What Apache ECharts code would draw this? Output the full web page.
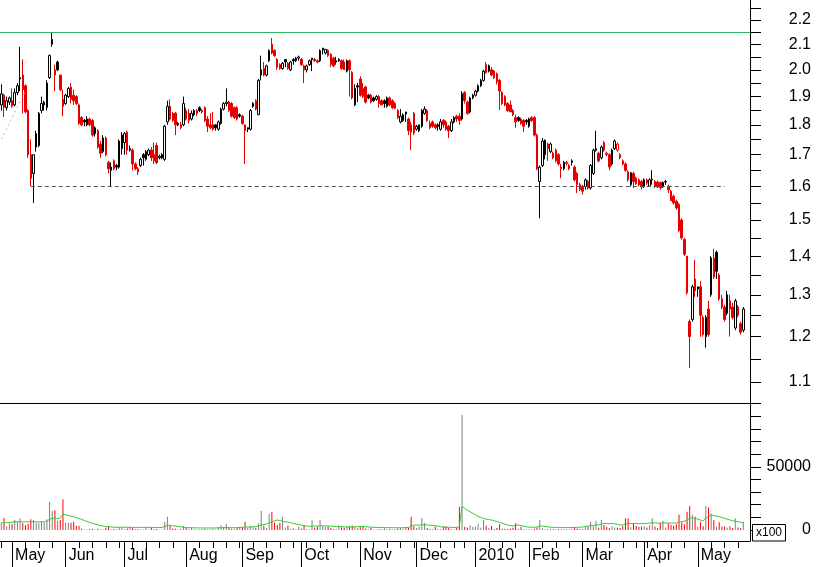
<!DOCTYPE html>
<html><head><meta charset="utf-8">
<script src="https://cdn.jsdelivr.net/npm/echarts@6.0.0/dist/echarts.min.js"></script>
<style>html,body{margin:0;padding:0;background:#fff}#c{width:817px;height:567px}</style>
</head><body><div id="c"></div>
<script>
// ---- calendar (trading days) ----
const monthKeys = ['2009-04','2009-05','2009-06','2009-07','2009-08','2009-09','2009-10','2009-11','2009-12','2010-01','2010-02','2010-03','2010-04','2010-05'];
const monthLabels = ['', 'May','Jun','Jul','Aug','Sep','Oct','Nov','Dec','2010','Feb','Mar','Apr','May'];
const monthDays = [
 [27,28,29,30],
 [4,5,6,7,8,11,12,13,14,15,18,19,20,21,22,25,26,27,28,29],
 [1,2,3,4,5,8,9,10,11,12,15,16,17,18,19,22,23,24,25,26,29,30],
 [1,2,3,6,7,8,9,10,13,14,15,16,17,20,21,22,23,24,27,28,29,30,31],
 [3,4,5,6,7,10,11,12,13,14,17,18,19,20,21,24,25,26,27,28,31],
 [1,2,3,4,7,8,9,10,11,14,15,16,17,18,21,22,23,24,25,28,29,30],
 [1,2,5,6,7,8,9,12,13,14,15,16,19,20,21,22,23,26,27,28,29,30],
 [2,3,4,5,6,9,10,11,12,13,16,17,18,19,20,23,24,25,26,27,30],
 [1,2,3,4,7,8,9,10,11,14,15,16,17,18,21,22,23,24,28,29,30,31],
 [4,5,6,7,8,11,12,13,14,15,18,19,20,21,22,25,26,27,28,29],
 [1,2,3,4,5,8,9,10,11,12,15,16,17,18,19,22,23,24,25,26],
 [1,2,3,4,5,8,9,10,11,12,15,16,17,18,19,22,23,24,25,26,29,30,31],
 [1,6,7,8,9,12,13,14,15,16,19,20,21,22,23,26,27,28,29,30],
 [3,4,5,6,7,10,11,12,13,14,17,18,19,20,21,24,25,26,27,28]
];

// ---- price series ----
const opens = [
 1.87,1.905,1.86,1.88,1.885,1.87,1.915,1.965,1.98,1.94,
 1.85,1.70,1.64,1.77,1.73,1.85,1.87,1.86,1.97,2.10,
 2.00,2.03,1.98,1.89,1.875,1.90,1.935,1.905,1.90,1.87,
 1.825,1.815,1.80,1.82,1.815,1.79,1.78,1.735,1.71,1.755,
 1.675,1.65,1.68,1.665,1.66,1.72,1.74,1.775,1.715,1.715,
 1.67,1.655,1.665,1.70,1.685,1.70,1.715,1.70,1.73,1.69,
 1.69,1.685,1.81,1.865,1.84,1.84,1.80,1.80,1.80,1.85,
 1.84,1.82,1.835,1.85,1.86,1.85,1.86,1.82,1.80,1.80,
 1.80,1.785,1.805,1.855,1.875,1.88,1.875,1.86,1.86,1.835,
 1.83,1.80,1.79,1.785,1.875,1.885,1.835,1.98,2.005,1.98,
 2.035,2.10,2.075,2.04,2.02,2.005,2.04,2.025,2.00,2.04,
 2.035,2.045,2.04,2.015,2.00,2.02,2.045,2.04,2.035,2.035,
 2.085,2.065,2.075,2.06,2.045,2.035,2.04,2.035,2.03,1.995,
 2.035,1.99,1.87,1.94,1.965,1.93,1.935,1.905,1.905,1.895,
 1.89,1.90,1.885,1.885,1.865,1.895,1.885,1.875,1.85,1.81,
 1.815,1.845,1.82,1.80,1.84,1.785,1.78,1.795,1.84,1.85,
 1.79,1.81,1.80,1.80,1.785,1.815,1.81,1.795,1.78,1.81,
 1.83,1.83,1.82,1.915,1.88,1.845,1.895,1.905,1.92,1.94,
 1.96,2.02,2.015,2.00,1.995,1.985,1.96,1.915,1.90,1.875,
 1.87,1.85,1.825,1.825,1.82,1.815,1.815,1.795,1.825,1.825,
 1.765,1.615,1.665,1.70,1.735,1.71,1.705,1.715,1.70,1.66,
 1.655,1.675,1.665,1.675,1.66,1.64,1.605,1.60,1.60,1.615,
 1.595,1.64,1.715,1.705,1.69,1.74,1.70,1.70,1.67,1.72,
 1.715,1.70,1.68,1.67,1.645,1.605,1.64,1.625,1.62,1.615,
 1.60,1.62,1.60,1.62,1.615,1.613,1.612,1.598,1.615,1.60,
 1.585,1.57,1.555,1.545,1.50,1.445,1.40,1.235,1.24,1.34,
 1.32,1.32,1.245,1.20,1.265,1.30,1.395,1.41,1.35,1.29,
 1.27,1.255,1.285,1.27,1.22,1.27,1.23,1.215
];
const highs = [
 1.945,1.91,1.90,1.90,1.93,1.93,1.95,2.09,2.04,1.945,
 1.855,1.75,1.70,1.78,1.845,1.90,1.885,1.96,2.06,2.15,
 2.02,2.035,1.98,1.925,1.91,1.935,1.95,1.925,1.905,1.875,
 1.83,1.82,1.83,1.825,1.82,1.795,1.785,1.745,1.765,1.76,
 1.68,1.675,1.685,1.67,1.75,1.775,1.775,1.78,1.73,1.72,
 1.675,1.66,1.69,1.705,1.715,1.72,1.725,1.74,1.74,1.70,
 1.705,1.80,1.885,1.89,1.845,1.845,1.81,1.81,1.90,1.86,
 1.855,1.85,1.855,1.855,1.865,1.855,1.865,1.83,1.84,1.845,
 1.80,1.815,1.86,1.88,1.93,1.885,1.88,1.865,1.865,1.84,
 1.835,1.80,1.79,1.855,1.88,1.89,1.965,2.055,2.03,2.02,
 2.08,2.125,2.08,2.045,2.025,2.03,2.04,2.03,2.035,2.045,
 2.05,2.055,2.045,2.02,2.02,2.04,2.045,2.045,2.04,2.08,
 2.085,2.08,2.08,2.065,2.05,2.05,2.045,2.04,2.04,2.04,
 2.04,1.995,1.945,1.95,1.975,1.95,1.94,1.91,1.91,1.90,
 1.905,1.905,1.89,1.89,1.90,1.90,1.89,1.88,1.855,1.855,
 1.84,1.845,1.825,1.81,1.845,1.80,1.80,1.855,1.865,1.855,
 1.815,1.815,1.805,1.805,1.82,1.82,1.815,1.80,1.82,1.83,
 1.835,1.84,1.92,1.92,1.885,1.90,1.91,1.925,1.945,1.965,
 2.00,2.03,2.02,2.01,2.00,1.99,1.965,1.92,1.905,1.88,
 1.885,1.855,1.835,1.83,1.825,1.82,1.82,1.825,1.83,1.83,
 1.77,1.665,1.755,1.75,1.74,1.74,1.71,1.72,1.705,1.67,
 1.68,1.68,1.67,1.685,1.665,1.645,1.61,1.605,1.625,1.62,
 1.67,1.72,1.78,1.71,1.73,1.745,1.71,1.705,1.72,1.75,
 1.74,1.705,1.685,1.675,1.65,1.645,1.645,1.63,1.625,1.62,
 1.625,1.625,1.625,1.65,1.62,1.618,1.615,1.615,1.62,1.605,
 1.59,1.575,1.56,1.55,1.505,1.45,1.40,1.24,1.325,1.39,
 1.32,1.335,1.25,1.25,1.285,1.40,1.42,1.415,1.355,1.30,
 1.275,1.31,1.30,1.28,1.29,1.275,1.235,1.27
];
const lows = [
 1.85,1.827,1.85,1.87,1.86,1.865,1.905,1.92,1.84,1.84,
 1.69,1.60,1.55,1.71,1.725,1.84,1.85,1.85,1.965,2.09,
 1.92,1.995,1.92,1.83,1.87,1.895,1.875,1.87,1.87,1.80,
 1.795,1.795,1.795,1.795,1.76,1.76,1.72,1.69,1.705,1.695,
 1.64,1.60,1.65,1.65,1.655,1.70,1.70,1.70,1.71,1.65,
 1.65,1.635,1.66,1.665,1.68,1.695,1.68,1.67,1.67,1.685,
 1.685,1.68,1.80,1.815,1.81,1.765,1.795,1.785,1.795,1.815,
 1.805,1.815,1.83,1.83,1.845,1.84,1.81,1.775,1.785,1.78,
 1.78,1.78,1.80,1.85,1.865,1.845,1.825,1.82,1.815,1.825,
 1.80,1.67,1.775,1.78,1.86,1.85,1.835,1.96,1.975,1.975,
 2.03,2.06,2.05,2.00,2.00,2.00,2.01,2.00,1.995,2.02,
 2.03,2.035,2.015,1.95,1.99,2.015,1.995,2.03,2.025,2.03,
 2.06,2.06,2.05,2.01,2.01,2.02,2.03,2.00,2.00,1.99,
 1.90,1.89,1.865,1.88,1.90,1.895,1.875,1.89,1.875,1.88,
 1.885,1.86,1.87,1.86,1.86,1.865,1.855,1.855,1.82,1.805,
 1.81,1.81,1.765,1.715,1.765,1.78,1.775,1.79,1.835,1.81,
 1.785,1.79,1.785,1.78,1.78,1.79,1.78,1.755,1.775,1.805,
 1.81,1.80,1.815,1.875,1.835,1.84,1.89,1.90,1.915,1.935,
 1.955,1.985,1.99,1.975,1.965,1.945,1.852,1.87,1.865,1.845,
 1.845,1.83,1.79,1.81,1.80,1.775,1.80,1.79,1.81,1.76,
 1.65,1.505,1.66,1.685,1.68,1.705,1.685,1.675,1.665,1.625,
 1.65,1.665,1.65,1.665,1.615,1.58,1.585,1.575,1.59,1.59,
 1.59,1.635,1.71,1.675,1.685,1.71,1.695,1.65,1.665,1.715,
 1.71,1.685,1.665,1.645,1.615,1.60,1.595,1.605,1.60,1.59,
 1.595,1.605,1.598,1.605,1.595,1.595,1.59,1.595,1.605,1.58,
 1.555,1.545,1.53,1.465,1.445,1.40,1.30,1.13,1.235,1.295,
 1.295,1.20,1.20,1.175,1.20,1.295,1.34,1.34,1.285,1.265,
 1.235,1.25,1.20,1.24,1.215,1.245,1.205,1.21
];
const closes = [
 1.91,1.862,1.885,1.895,1.865,1.915,1.94,1.97,1.925,1.845,
 1.70,1.625,1.70,1.725,1.84,1.875,1.88,1.95,2.055,2.12,
 1.98,2.00,1.925,1.865,1.905,1.93,1.89,1.885,1.875,1.805,
 1.80,1.81,1.82,1.80,1.765,1.77,1.725,1.705,1.755,1.70,
 1.655,1.66,1.655,1.66,1.745,1.765,1.77,1.715,1.72,1.67,
 1.655,1.645,1.685,1.69,1.71,1.715,1.69,1.68,1.675,1.695,
 1.70,1.795,1.865,1.82,1.815,1.80,1.805,1.79,1.875,1.82,
 1.815,1.84,1.85,1.84,1.85,1.845,1.815,1.795,1.79,1.785,
 1.79,1.81,1.855,1.875,1.88,1.85,1.83,1.825,1.82,1.83,
 1.805,1.78,1.785,1.85,1.865,1.855,1.96,2.00,1.98,2.015,
 2.075,2.065,2.055,2.01,2.005,2.025,2.03,2.005,2.03,2.035,
 2.045,2.05,2.02,2.00,2.015,2.035,2.04,2.035,2.03,2.075,
 2.078,2.08,2.055,2.02,2.015,2.03,2.035,2.005,2.00,2.035,
 2.00,1.895,1.93,1.935,1.905,1.90,1.88,1.895,1.88,1.885,
 1.90,1.875,1.87,1.875,1.895,1.87,1.86,1.858,1.825,1.83,
 1.835,1.838,1.78,1.775,1.772,1.795,1.80,1.85,1.855,1.815,
 1.805,1.795,1.79,1.795,1.81,1.80,1.785,1.78,1.81,1.825,
 1.82,1.815,1.91,1.885,1.84,1.895,1.905,1.92,1.94,1.96,
 1.995,1.99,1.995,1.98,1.97,1.955,1.92,1.875,1.87,1.85,
 1.845,1.835,1.81,1.815,1.805,1.795,1.81,1.82,1.815,1.765,
 1.655,1.66,1.745,1.748,1.72,1.735,1.69,1.68,1.67,1.655,
 1.675,1.672,1.655,1.68,1.62,1.605,1.59,1.585,1.62,1.595,
 1.665,1.715,1.72,1.68,1.725,1.715,1.705,1.66,1.715,1.745,
 1.735,1.69,1.67,1.65,1.62,1.642,1.615,1.608,1.605,1.598,
 1.62,1.61,1.62,1.622,1.60,1.598,1.596,1.612,1.613,1.59,
 1.557,1.55,1.535,1.47,1.45,1.405,1.305,1.20,1.32,1.31,
 1.315,1.25,1.205,1.245,1.205,1.395,1.345,1.36,1.29,1.27,
 1.24,1.30,1.265,1.245,1.285,1.25,1.21,1.265
];

// ---- volume (x100) ----
const volumes = [
 5500,9700,3000,5200,4500,8000,7000,9000,5500,4000,5000,8500,8000,6000,5500,7000,6000,8500,22300,15000,15700,7300,8000,24400,
 5700,5700,5700,6500,3400,3100,1200,400,300,800,1000,400,900,300,500,1800,3000,600,800,500,2000,1800,400,
 1200,2600,1500,600,700,300,400,2000,400,1700,500,800,200,300,6500,10500,3400,1200,900,400,1000,3200,
 1800,500,2200,800,400,300,600,900,400,300,800,300,2400,3800,2500,4700,1800,900,600,1500,2600,
 2000,6500,1500,3000,2200,1800,5300,15200,3500,1500,12800,14400,6000,4000,5500,10500,2000,3500,1000,1500,600,2500,
 1200,3800,800,600,7900,1800,2600,7900,3000,2500,2800,1500,800,1000,3500,2200,1800,2500,3000,3500,2500,1500,
 2800,2500,1200,600,1800,400,300,800,600,1500,500,800,400,600,1200,1500,900,2500,2000,10500,3000,
 1500,2800,9500,5500,1500,800,600,2500,1000,600,2800,3000,1500,700,400,2000,18400,91000,2500,2000,3800,2400,
 2800,5000,1800,7900,3500,1500,3200,800,1500,4500,900,1000,800,1200,1800,5300,900,2500,600,400,500,300,
 1000,2000,7900,1500,800,500,1000,600,400,800,500,600,400,300,900,2200,1200,700,500,2500,2600,6500,
 3400,7400,1800,7900,4000,2500,1500,3000,2000,1800,1500,3000,9200,9200,2200,5200,3400,2500,2800,3000,2000,3800,
 9200,2800,1500,5700,7400,2000,5200,4000,3500,4500,12000,6000,4500,14400,18900,12000,10500,2500,6500,3000,18900,17800,
 13000,8000,2800,6100,2500,3000,2000,3000,1500,9200,2000,1500,6500
];
const volumeMA = [
 5700,5800,5800,6000,6200,6500,6500,6500,6500,6500,6500,6500,6500,6500,6500,6500,6500,7000,8500,9200,9500,9000,9500,12600,
 12000,11500,11000,10500,9800,9000,8400,7500,6800,6000,5300,4700,4100,3600,3100,2800,2600,2400,2200,2100,2100,2200,2100,
 2100,2100,2000,2000,2100,2000,2000,2100,2000,2100,2000,2000,2000,2000,2600,3900,3600,3300,3100,2800,2500,2200,
 2000,1800,1800,1700,1700,1600,1600,1600,1600,1600,1600,1600,1700,1800,1800,1900,1900,1800,1800,1900,2000,
 2100,2400,2300,2400,2500,2800,3200,3900,4300,4700,5700,6500,7300,7900,7500,6900,6500,6100,5700,5200,4700,4300,
 3900,3400,3100,2900,3000,3100,3100,3400,3300,3200,3100,3000,2900,2700,2700,2600,2500,2500,2400,2400,2500,2600,
 2700,2800,2600,2400,2200,2100,2100,2000,2000,1900,1900,1800,1800,1800,1800,1800,1800,1900,2000,3200,3900,
 3900,3800,4200,4200,4000,3800,3600,3400,3000,2600,2300,2200,2100,2100,2000,2000,2900,18900,17000,15600,14400,13200,
 12000,10800,9800,9200,8600,8200,7900,7300,6700,6000,5200,4600,4000,3500,3100,3500,3900,3500,3000,2600,2300,2100,
 2100,2400,3100,3100,2800,2500,2200,2100,2100,2000,2000,2000,1900,1900,2000,2100,2100,2100,2400,2800,3100,3500,
 3700,3900,4100,4600,5200,5200,5000,5200,4900,4500,3900,3900,4600,5200,5200,5200,5200,5000,5000,5200,5200,5300,
 5700,5600,5400,5500,5700,5500,5500,5500,5400,5500,6500,6500,7000,7900,9200,9600,9200,8600,7900,7300,9500,10500,
 11800,11500,11000,10500,9800,9200,8600,7900,7300,7000,6500,6100,5700
];

// ---- axis ticks / reference lines ----
const priceTicks = [1.1,1.15,1.2,1.25,1.3,1.35,1.4,1.45,1.5,1.55,1.6,1.65,1.7,1.75,1.8,1.85,1.9,1.95,2.0,2.05,2.1,2.15,2.2,2.25];
const priceLabels = [1.1,1.2,1.3,1.4,1.5,1.6,1.7,1.8,1.9,2.0,2.1,2.2];
const priceRange = [1.0568, 2.2859];
const volumeTicks = [0,10000,20000,30000,40000,50000,60000,70000,80000,90000,100000];
const volumeLabels = [0, 50000];
const volumeRange = [-8700, 100400];
const resistanceLevel = 2.15;
const supportLevel = 1.6;
const supportSpan = [11, 270];
const trendLine = [[0, 1.751], [9, 1.92]];

// ---- build ----
const cats = [], monthStart = [], weekStart = [], labelAt = [];
monthKeys.forEach((k, m) => {
  monthDays[m].forEach((d, j) => {
    const s = k + '-' + String(d).padStart(2, '0');
    const idx = cats.length;
    cats.push(s);
    monthStart.push(m > 0 && j === 0);
    labelAt.push(m > 0 && j === 0 ? monthLabels[m] : '');
    const wd = new Date(s + 'T00:00:00Z').getUTCDay();
    const pwd = idx > 0 ? new Date(cats[idx - 1] + 'T00:00:00Z').getUTCDay() : 9;
    weekStart.push(idx === 0 || wd <= pwd);
  });
});

const L = Math.log;
const RED = '#e60000', BLK = '#000000';
const candleData = [], volData = [];
opens.forEach((o, i) => {
  const c = closes[i];
  const up = i === 0 || c >= closes[i - 1];
  const line = up ? BLK : RED;
  const fill = c > o ? '#ffffff' : line;
  candleData.push({
    value: [L(o), L(c), L(lows[i]), L(highs[i])],
    itemStyle: { color: fill, color0: fill, borderColor: line, borderColor0: line, borderColorDoji: line }
  });
  volData.push({ value: volumes[i], itemStyle: { color: up ? '#808080' : '#ff0000' } });
});

const FONT = 'Liberation Sans, Arial, sans-serif';
const chart = echarts.init(document.getElementById('c'), null, { renderer: 'canvas' });
chart.setOption({
  animation: false,
  backgroundColor: '#ffffff',
  grid: [
    { left: 0, top: 0, width: 750, height: 403 },
    { left: 0, top: 403, width: 750, height: 138 }
  ],
  xAxis: [
    { type: 'category', gridIndex: 0, data: cats, boundaryGap: true,
      axisLine: { show: true, onZero: false, lineStyle: { color: '#000', width: 1 } },
      axisTick: { show: false }, axisLabel: { show: false }, splitLine: { show: false } },
    { type: 'category', gridIndex: 1, data: cats, boundaryGap: true, position: 'bottom',
      axisLine: { show: true, onZero: false, lineStyle: { color: '#000', width: 1 } },
      axisTick: { show: true, alignWithLabel: true, interval: (i) => weekStart[i], length: 7, lineStyle: { color: '#000', width: 1 } },
      axisLabel: { show: false }, splitLine: { show: false } },
    { type: 'category', gridIndex: 1, data: cats, boundaryGap: true, position: 'bottom',
      axisLine: { show: false, onZero: false },
      axisTick: { show: true, alignWithLabel: true, interval: (i) => monthStart[i], length: 26, lineStyle: { color: '#000', width: 1 } },
      axisLabel: { show: true, interval: (i) => monthStart[i], formatter: (v, i) => labelAt[i],
        align: 'left', padding: [0, 0, 0, 3], margin: 7, color: '#000', fontSize: 16, fontFamily: FONT },
      splitLine: { show: false } }
  ],
  yAxis: [
    { type: 'value', gridIndex: 0, position: 'right', min: L(priceRange[0]), max: L(priceRange[1]),
      axisLine: { show: true, onZero: false, lineStyle: { color: '#000', width: 1 } },
      axisTick: { show: true, customValues: priceTicks.map(L), length: 11, lineStyle: { color: '#000', width: 1 } },
      axisLabel: { show: true, customValues: priceLabels.map(L), formatter: (v) => Math.exp(v).toFixed(1),
        align: 'right', margin: 61, color: '#000', fontSize: 16, fontFamily: FONT },
      splitLine: { show: false } },
    { type: 'value', gridIndex: 1, position: 'right', min: volumeRange[0], max: volumeRange[1],
      axisLine: { show: true, onZero: false, lineStyle: { color: '#000', width: 1 } },
      axisTick: { show: true, customValues: volumeTicks, length: 11, lineStyle: { color: '#000', width: 1 } },
      axisLabel: { show: true, customValues: volumeLabels, formatter: (v) => String(Math.round(v)),
        align: 'right', margin: 61, color: '#000', fontSize: 16, fontFamily: FONT },
      splitLine: { show: false } }
  ],
  series: [
    { type: 'candlestick', xAxisIndex: 0, yAxisIndex: 0, data: candleData, barWidth: 2,
      itemStyle: { borderWidth: 1 },
      markLine: {
        silent: true, symbol: ['none', 'none'], animation: false, label: { show: false },
        emphasis: { disabled: true },
        lineStyle: { color: '#2fb35f', width: 1, type: 'solid', opacity: 1 },
        data: [
          [ { coord: [cats[0], L(resistanceLevel)], x: 0, lineStyle: { color: '#2fb35f', width: 1, type: 'solid' } },
            { coord: [cats[cats.length - 1], L(resistanceLevel)], x: 750 } ],
          [ { coord: [cats[supportSpan[0]], L(supportLevel)], lineStyle: { color: '#555555', width: 1, type: [4, 3] } },
            { coord: [cats[supportSpan[1]], L(supportLevel)] } ],
          [ { coord: [cats[trendLine[0][0]], L(trendLine[0][1])], lineStyle: { color: '#b8b8b8', width: 1, type: [2, 3] } },
            { coord: [cats[trendLine[1][0]], L(trendLine[1][1])] } ]
        ]
      } },
    { type: 'bar', xAxisIndex: 1, yAxisIndex: 1, data: volData, barWidth: 1 },
    { type: 'line', xAxisIndex: 1, yAxisIndex: 1, data: volumeMA, symbol: 'none', showSymbol: false,
      lineStyle: { color: '#33cc33', width: 1 }, z: 3 }
  ],
  graphic: [
    { type: 'rect', shape: { x: 752.5, y: 524.5, width: 33, height: 16.5 }, style: { fill: '#ffffff', stroke: '#000', lineWidth: 1 }, z: 100 },
    { type: 'text', x: 769, y: 533, style: { text: 'x100', font: '12px ' + FONT, fill: '#000', textAlign: 'center', textVerticalAlign: 'middle', align: 'center', verticalAlign: 'middle' }, z: 101 }
  ]
});
</script></body></html>
